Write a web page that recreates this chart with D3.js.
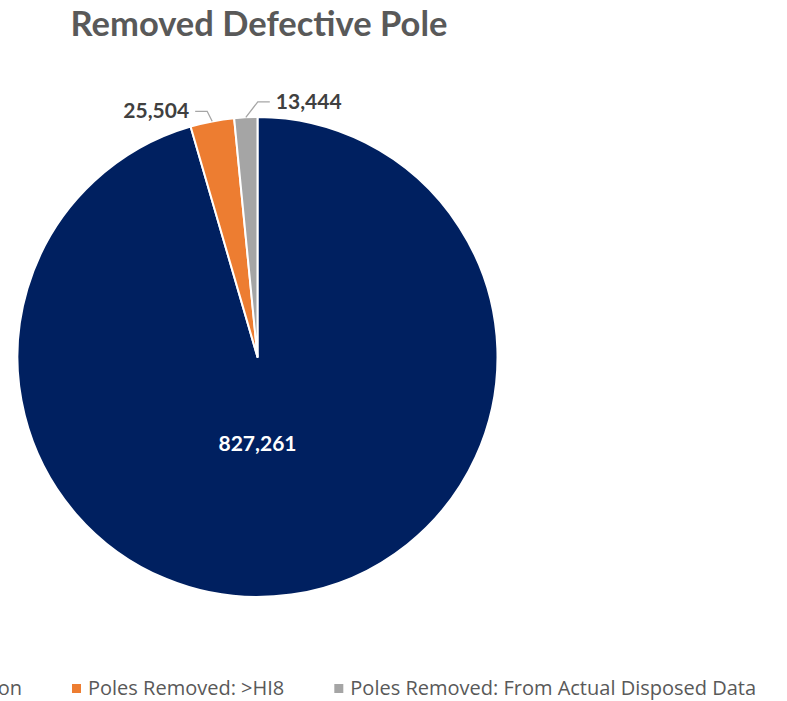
<!DOCTYPE html>
<html lang="en">
  <head>
    <meta charset="UTF-8" />
    <title>Removed Defective Pole</title>
    <script src="https://cdn.jsdelivr.net/npm/d3@7"></script>
    <style>
      body { margin: 0; background: #fff; }
      svg { display: block; }
    </style>
  </head>
  <body>
    <svg width="787" height="701"></svg>
    <script>
      // data
      const categories = [
        "Poles Removed: Inspection",
        "Poles Removed: >HI8",
        "Poles Removed: From Actual Disposed Data"
      ];
      const values = [827261, 25504, 13444];
      const colors = ["#002060", "#ED7D31", "#A5A5A5"];

      const svg = d3.select("svg");
      const cx = 257.5, cy = 357, r = 240;
      const fmt = d3.format(",");

      // title
      svg.append("text")
        .attr("x", 259)
        .attr("y", 36)
        .attr("text-anchor", "middle")
        .attr("font-family", "Lato, 'Open Sans', sans-serif")
        .attr("font-weight", "bold")
        .attr("font-size", 34.5)
        .attr("fill", "#595959")
        .text("Removed Defective Pole");

      const pie = d3.pie().sort(null).value(d => d);
      const arcs = pie(values);
      const arc = d3.arc().innerRadius(0).outerRadius(r);

      const g = svg.append("g").attr("transform", `translate(${cx},${cy})`);

      g.selectAll("path")
        .data(arcs)
        .enter()
        .append("path")
        .attr("d", arc)
        .attr("fill", (d, i) => colors[i])
        .attr("stroke", "#fff")
        .attr("stroke-width", 2)
        .attr("stroke-linejoin", "round");

      // big label inside
      g.append("text")
        .attr("x", 0)
        .attr("y", 94)
        .attr("text-anchor", "middle")
        .attr("font-family", "Lato, 'Open Sans', sans-serif")
        .attr("font-weight", "bold")
        .attr("font-size", 21)
        .attr("fill", "#fff")
        .text(fmt(values[0]));

      // outside labels with leader lines (elbow offsets / side)
      const outside = [
        { i: 1, dx: -5, dy: -10, side: -1 },
        { i: 2, dx: 12, dy: -15.5, side: 1 }
      ];
      outside.forEach(o => {
        const a = arcs[o.i];
        const mid = (a.startAngle + a.endAngle) / 2;
        const p0 = [Math.sin(mid) * r, -Math.cos(mid) * r];
        const p1 = [p0[0] + o.dx, p0[1] + o.dy];
        const p2 = [p1[0] + 12 * o.side, p1[1]];
        g.append("polyline")
          .attr("points", [p0, p1, p2].map(p => p.join(",")).join(" "))
          .attr("fill", "none")
          .attr("stroke", "#A6A6A6")
          .attr("stroke-width", 1.3);
        g.append("text")
          .attr("x", p2[0] + 6 * o.side)
          .attr("y", p2[1] + 7)
          .attr("text-anchor", o.side < 0 ? "end" : "start")
          .attr("font-family", "Lato, 'Open Sans', sans-serif")
          .attr("font-weight", "bold")
          .attr("font-size", 21)
          .attr("fill", "#404040")
          .text(fmt(values[o.i]));
      });

      // legend, laid out from the second item (first one runs off the left edge)
      const legend = svg.append("g").attr("transform", "translate(0,689)");
      const items = legend.selectAll("g")
        .data(categories)
        .enter()
        .append("g");
      items.append("rect")
        .attr("width", 9)
        .attr("height", 9)
        .attr("y", -5)
        .attr("fill", (d, i) => colors[i]);
      items.append("text")
        .attr("x", 16)
        .attr("y", 6)
        .attr("font-family", "'Open Sans', Lato, sans-serif")
        .attr("font-size", 20)
        .attr("fill", "#595959")
        .text(d => d);

      const widths = [];
      items.selectAll("text").each(function () {
        widths.push(this.getComputedTextLength());
      });
      const gap = 50;
      const xs = [];
      xs[1] = 72;
      xs[0] = xs[1] - gap - 16 - widths[0];
      xs[2] = xs[1] + 16 + widths[1] + gap;
      items.attr("transform", (d, i) => `translate(${xs[i]},0)`);
    </script>
  </body>
</html>
